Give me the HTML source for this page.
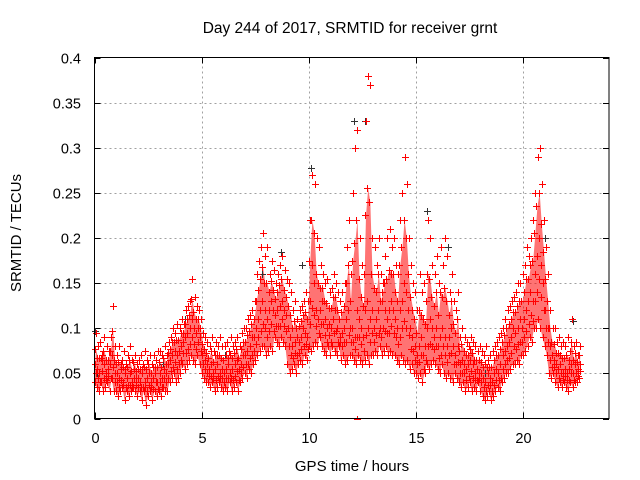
<!DOCTYPE html>
<html><head><meta charset="utf-8"><style>
body{margin:0;background:#fff}
svg{display:block;font-family:"Liberation Sans",sans-serif}
</style></head><body>
<svg id="chart" width="640" height="480" viewBox="0 0 640 480" xmlns="http://www.w3.org/2000/svg">
<rect width="640" height="480" fill="#fff"/>
<text x="350" y="33" font-size="15.5" text-anchor="middle">Day 244 of 2017, SRMTID for receiver grnt</text>
<g id="grid"></g>
<g id="ticks"></g>
<g id="band"></g>
<g id="black"></g>
<g id="red"></g>
<rect x="94.5" y="57.5" width="514.5" height="361" fill="none" stroke="#000" stroke-width="1"/>
<text x="352" y="471" font-size="15" text-anchor="middle">GPS time / hours</text>
<text transform="translate(21,233) rotate(-90)" font-size="15" text-anchor="middle">SRMTID / TECUs</text>
</svg>
<script>
const xTicks=[0,5,10,15,20];
const yTicks=[0,0.05,0.1,0.15,0.2,0.25,0.3,0.35,0.4];
const yTickLabels=["0","0.05","0.1","0.15","0.2","0.25","0.3","0.35","0.4"];
const sLow=[.04,.035,.03,.04,.03,.035,.04,.03,.045,.03, .03,.025,.03,.035,.02,.03,.025,.03,.035,.03, .025,.03,.02,.03,.015,.025,.03,.02,.03,.025, .03,.025,.035,.03,.03,.04,.045,.05,.04,.045, .05,.06,.055,.06,.065,.07,.065,.06,.07,.06, .05,.045,.04,.04,.035,.04,.03,.035,.04,.035, .03,.035,.03,.04,.03,.035,.04,.03,.04,.045, .05,.045,.055,.05,.06,.065,.07,.075,.08,.08, .07,.075,.08,.075,.09,.085,.08,.09,.085,.08, .06,.05,.055,.06,.05,.06,.065,.06,.07,.065, .08,.075,.08,.085,.08,.09,.08,.075,.07,.08, .07,.08,.075,.07,.08,.065,.07,.06,.065,.07, .07,.065,.06,.07,.065,.06,.065,.07,.06,.07, .07,.075,.07,.08,.07,.075,.08,.07,.075,.07, .07,.065,.06,.07,.065,.06,.065,.055,.06,.05, .05,.045,.05,.04,.05,.06,.055,.06,.065,.06, .055,.05,.06,.05,.045,.05,.045,.04,.05,.045, .04,.035,.04,.03,.035,.04,.03,.035,.03,.04, .03,.025,.02,.025,.03,.02,.025,.03,.035,.03, .04,.045,.05,.05,.055,.06,.06,.065,.06,.07, .07,.075,.08,.09,.085,.1,.1,.11,.1,.09, .08,.07,.05,.045,.05,.04,.035,.04,.035,.04, .035,.03,.04,.035,.04,.04,.045];
const sMid=[.06,.055,.05,.065,.06,.05,.055,.06,.07,.05, .05,.045,.055,.04,.05,.045,.05,.04,.055,.045, .045,.04,.05,.04,.045,.05,.04,.045,.05,.04, .05,.045,.055,.05,.06,.065,.07,.075,.07,.075, .08,.085,.09,.095,.1,.11,.1,.095,.1,.09, .07,.065,.06,.055,.06,.05,.055,.06,.05,.055, .05,.055,.06,.05,.055,.06,.065,.055,.06,.07, .07,.075,.08,.09,.09,.1,.11,.12,.13,.12, .11,.12,.13,.12,.115,.12,.125,.13,.12,.115, .1,.09,.08,.085,.09,.085,.09,.1,.095,.09, .13,.17,.15,.12,.11,.12,.13,.11,.1,.105, .1,.11,.12,.1,.09,.095,.1,.11,.12,.1, .1,.09,.12,.11,.1,.09,.12,.13,.11,.12, .1,.11,.12,.1,.13,.12,.11,.12,.13,.12, .11,.1,.12,.13,.15,.14,.12,.1,.09,.08, .07,.08,.09,.07,.08,.1,.11,.1,.09,.1, .08,.09,.1,.09,.08,.09,.1,.08,.07,.08, .06,.065,.06,.055,.06,.065,.06,.05,.055,.05, .05,.045,.04,.05,.045,.04,.05,.055,.05,.06, .07,.075,.08,.085,.09,.1,.095,.1,.11,.1, .11,.12,.13,.14,.13,.16,.18,.2,.17,.15, .12,.1,.08,.07,.065,.06,.055,.06,.05,.055, .05,.055,.06,.05,.06,.055,.06];
const sHigh=[.095,.08,.085,.07,.09,.08,.075,.09,.125,.08, .07,.08,.065,.075,.06,.07,.08,.065,.07,.06, .065,.07,.06,.075,.065,.07,.06,.07,.065,.075, .075,.07,.08,.07,.085,.09,.1,.095,.105,.1, .11,.105,.12,.125,.13,.155,.135,.125,.12,.11, .095,.09,.085,.08,.09,.075,.085,.08,.09,.08, .08,.085,.075,.09,.08,.085,.09,.08,.095,.1, .1,.11,.115,.12,.13,.16,.175,.19,.205,.18, .19,.16,.175,.165,.15,.16,.17,.18,.165,.155, .15,.14,.12,.13,.11,.12,.125,.13,.14,.13, .22,.27,.26,.2,.19,.17,.16,.15,.155,.14, .145,.16,.15,.14,.13,.14,.15,.19,.22,.16, .25,.3,.32,.2,.17,.16,.33,.38,.37,.2, .19,.17,.2,.16,.15,.18,.2,.21,.19,.2, .17,.16,.22,.25,.29,.26,.2,.17,.15,.14, .12,.16,.14,.15,.13,.22,.2,.17,.16,.18, .15,.19,.17,.2,.18,.14,.16,.13,.12,.14, .09,.1,.09,.085,.08,.09,.085,.08,.075,.08, .075,.07,.08,.065,.07,.075,.08,.085,.09,.095, .1,.11,.12,.125,.13,.135,.14,.15,.15,.16, .17,.19,.18,.2,.22,.25,.29,.3,.26,.22, .19,.16,.12,.1,.1,.085,.09,.08,.085,.08, .09,.075,.11,.08,.085,.07,.08];
const times=sLow.map((_,i)=>i/10);
const blackT=[0,0.1,4.2,7.8,8.7,9.7,10.05,10.1,12.1,12.6,15.5,16.5,21,22.3,3.2,18.2,6.1];
const blackV=[0.097,0.05,0.11,0.16,0.185,0.17,0.22,0.278,0.33,0.33,0.23,0.19,0.2,0.108,0.06,0.05,0.07];
const extraT=[12.25];
const extraV=[0];

const X0=94.5,X1=609,Y0=418.5,Y1=57.5,XMAX=24,YMAX=0.4;
const sx=t=>X0+(X1-X0)*t/XMAX;
const sy=v=>Y0-(Y0-Y1)*v/YMAX;
const NS="http://www.w3.org/2000/svg";
function mk(tag,attrs,parent){const e=document.createElementNS(NS,tag);for(const k in attrs)e.setAttribute(k,attrs[k]);parent.appendChild(e);return e;}
const grid=document.getElementById('grid'),ticks=document.getElementById('ticks');
yTicks.forEach((v,i)=>{
  const y=Math.round(sy(v))+0.5;
  if(v>0&&v<YMAX){const g=mk('line',{x1:X0,x2:X1,y1:y,y2:y,stroke:'#a0a0a0','stroke-dasharray':'2,3'},grid);
  
  }
  mk('line',{x1:X0,x2:X0+6,y1:y,y2:y,stroke:'#000'},ticks);
  mk('line',{x1:X1,x2:X1-6,y1:y,y2:y,stroke:'#000'},ticks);
  const t=mk('text',{x:81,y:y+5,'font-size':14.5,'text-anchor':'end'},ticks);
  t.textContent=yTickLabels[i];
  
  
});
xTicks.forEach(v=>{
  const x=Math.round(sx(v))+0.5;
  if(v>0){const g=mk('line',{x1:x,x2:x,y1:Y0,y2:Y1,stroke:'#a0a0a0','stroke-dasharray':'2,3'},grid);
  
  }
  mk('line',{x1:x,x2:x,y1:Y0,y2:Y0-6,stroke:'#000'},ticks);
  mk('line',{x1:x,x2:x,y1:Y1,y2:Y1+6,stroke:'#000'},ticks);
  const t=mk('text',{x:x,y:443,'font-size':14.5,'text-anchor':'middle'},ticks);
  t.textContent=String(v);
  
  
});
// density band between low and mid/high envelopes
(function(){
  const band=document.getElementById('band');
  let d='';
  times.forEach((t,i)=>{d+=(i?'L':'M')+sx(t).toFixed(1)+' '+sy(sLow[i]).toFixed(1);});
  for(let i=times.length-1;i>=0;i--){d+='L'+sx(times[i]+0.066).toFixed(1)+' '+sy((sMid[i]+sHigh[i])/2).toFixed(1);}
  d+='Z';
  const p=mk('path',{d:d,fill:'#f00','fill-opacity':0.55,stroke:'none'},band);
  
  
})();
function plus(g,t,v,color){
  const x=Math.round(sx(t))+0.5,y=Math.round(sy(v))+0.5;
  const p=mk('path',{d:`M${x-3.5} ${y}H${x+3.5}M${x} ${Math.max(y-3.5,Y1)}V${Math.min(y+3.5,Y0)}`,stroke:color,'stroke-width':1,fill:'none'},g);
  
  
}
const blk=document.getElementById('black'),red=document.getElementById('red');
blackT.forEach((t,i)=>plus(blk,t,blackV[i],'#333'));
times.forEach((t,i)=>{
  plus(red,t,sLow[i],'#f00');
  plus(red,t+0.033,sMid[i],'#f00');
  plus(red,t+0.066,sHigh[i],'#f00');
  plus(red,t+0.05,(sLow[i]+sMid[i])/2,'#f00');
  plus(red,t+0.017,(sMid[i]+sHigh[i])/2,'#f00');
});
extraT.forEach((t,i)=>plus(red,t,extraV[i],'#f00'));
</script>
</body></html>
